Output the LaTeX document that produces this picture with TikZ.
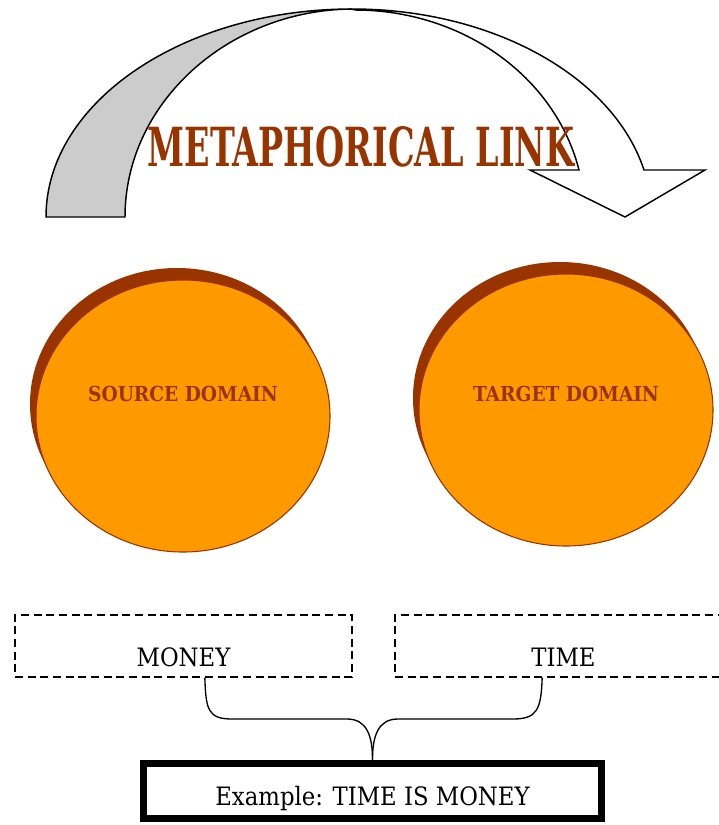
\documentclass[tikz,border=0pt]{standalone}
\usepackage{fontspec}
\setmainfont{DejaVu Serif Condensed}
\usepackage{graphicx}
\usetikzlibrary{shapes.geometric, shadows}

\definecolor{rust}{HTML}{993300}
\definecolor{amber}{HTML}{FF9900}
\definecolor{bandgray}{HTML}{CCCCCC}

\begin{document}
\begin{tikzpicture}[
  x=0.75pt, y=-0.75pt,
  domainbox/.style={
    ellipse, draw=rust, fill=amber, line width=0.8pt,
    minimum width=220.5pt, minimum height=204pt,
    general shadow={fill=rust, shadow xshift=-4.5pt, shadow yshift=9pt}
  },
  domaintext/.style={
    text=rust, font=\fontsize{15.5}{18}\selectfont\bfseries
  },
  wordbox/.style={
    rectangle, draw=black, dash pattern=on 6pt off 3.5pt, line width=1pt,
    minimum width=252.75pt, minimum height=46.5pt,
    text height=30pt, text depth=0pt, font=\fontsize{19}{22}\selectfont
  },
  examplebox/.style={
    rectangle, draw=black, line width=5.25pt,
    minimum width=343.5pt, minimum height=41.25pt,
    text height=21pt, text depth=0pt, font=\fontsize{19}{22}\selectfont
  },
  bandline/.style={draw=black, line width=1.1pt},
  link/.style={draw=black, line width=1pt},
]

\useasboundingbox (0,0) rectangle (718,825);

%% ── Curved arrow ─────────────────────────────────────────────────────────────
\filldraw[bandline, fill=bandgray]
  (46,217) .. controls (46,102) and (184,9) .. (352,9)
  .. controls (228,10) and (125,103) .. (125,217) -- cycle;
\filldraw[bandline, fill=white]
  (352,9) .. controls (492,9) and (613,76) .. (644,170)
  -- (705,170) -- (625,217) -- (530,170) -- (579,170)
  .. controls (555,76) and (462,10) .. (355,10) -- cycle;

\node[text=rust, inner sep=0pt] (linklabel) at (361,147)
  {\resizebox{320pt}{30pt}{\bfseries METAPHORICAL LINK}};

%% ── Domains ──────────────────────────────────────────────────────────────────
\node[domainbox] (source) at (183,416) {};
\node[domainbox] (target) at (566,410) {};
\node[domaintext] (sourcetxt) at (183,394) {SOURCE DOMAIN};
\node[domaintext] (targettxt) at (566,394) {TARGET DOMAIN};

%% ── Words and example ────────────────────────────────────────────────────────
\node[wordbox] (money) at (183.5,646) {MONEY};
\node[wordbox] (time)  at (563.5,646) {TIME};
\node[examplebox] (example) at (372.5,791) {Example: TIME IS MONEY};

\draw[link] ([xshift=16pt]money.south) .. controls +(1,32) and +(-24,0) .. (232,719)
  -- (347,719) .. controls +(20,0) and +(0,-24) .. (example.north);
\draw[link] ([xshift=-16pt]time.south) .. controls +(-1,32) and +(24,0) .. (513,719)
  -- (398,719) .. controls +(-20,0) and +(0,-24) .. (example.north);

\end{tikzpicture}
\end{document}
